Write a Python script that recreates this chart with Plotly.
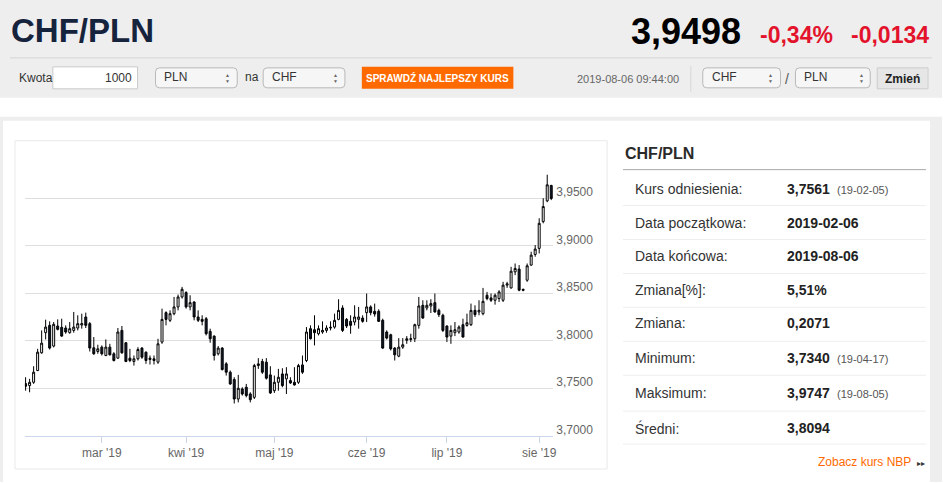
import pandas as pd
import plotly.graph_objects as go

W, H = 945, 483

# ------------------------------------------------------------------
# Data (CHF/PLN daily candles, 2019-02-04 .. 2019-08-06)
# ------------------------------------------------------------------
open_ = [
    3.7549, 3.7528, 3.7563, 3.7687, 3.7873, 3.8085, 3.8162, 3.7944, 3.8155, 3.8141,
    3.8134, 3.8085, 3.8109, 3.8134, 3.8166, 3.8250, 3.8180, 3.7926, 3.7887, 3.7933,
    3.7845, 3.7933, 3.7863, 3.7817, 3.8109, 3.7979, 3.7817, 3.7782, 3.7810, 3.7923,
    3.7880, 3.7817, 3.7810, 3.7775, 3.7986, 3.8296, 3.8215, 3.8285, 3.8356, 3.8461,
    3.8507, 3.8356, 3.8408, 3.8250, 3.8225, 3.8232, 3.8099, 3.8049, 3.7863, 3.7923,
    3.7757, 3.7669, 3.7592, 3.7387, 3.7493, 3.7511, 3.7440, 3.7405, 3.7739, 3.7782,
    3.7775, 3.7641, 3.7475, 3.7563, 3.7651, 3.7599, 3.7581, 3.7563, 3.7563, 3.7746,
    3.7792, 3.8127, 3.8116, 3.8074, 3.8092, 3.8109, 3.8134, 3.8144, 3.8225, 3.8345,
    3.8225, 3.8204, 3.8197, 3.8225, 3.8239, 3.8296, 3.8356, 3.8310, 3.8310, 3.8215,
    3.8092, 3.8063, 3.7923, 3.7838, 3.7933, 3.8004, 3.8014, 3.8021, 3.8162, 3.8373,
    3.8345, 3.8366, 3.8401, 3.8320, 3.8268, 3.8155, 3.8049, 3.8085, 3.8092, 3.8169,
    3.8162, 3.8169, 3.8320, 3.8303, 3.8285, 3.8479, 3.8451, 3.8426, 3.8444, 3.8426,
    3.8585, 3.8556, 3.8725, 3.8754, 3.8540, 3.8637, 3.8796, 3.8908, 3.8972, 3.9254,
    3.9472, 3.9634,
]
high = [
    3.7616, 3.7599, 3.7732, 3.7915, 3.8109, 3.8222, 3.8204, 3.8197, 3.8225, 3.8232,
    3.8162, 3.8197, 3.8303, 3.8268, 3.8285, 3.8296, 3.8197, 3.8039, 3.7958, 3.7951,
    3.8014, 3.7968, 3.7880, 3.8134, 3.8155, 3.7986, 3.7915, 3.7845, 3.7933, 3.7933,
    3.7887, 3.7845, 3.7845, 3.8021, 3.8338, 3.8310, 3.8320, 3.8461, 3.8486, 3.8567,
    3.8521, 3.8479, 3.8415, 3.8320, 3.8268, 3.8250, 3.8127, 3.8056, 3.7944, 3.7933,
    3.7775, 3.7687, 3.7616, 3.7641, 3.7511, 3.7546, 3.7458, 3.7757, 3.7817, 3.7810,
    3.7817, 3.7732, 3.7634, 3.7704, 3.7711, 3.7722, 3.7616, 3.7722, 3.7757, 3.7845,
    3.8144, 3.8162, 3.8268, 3.8162, 3.8204, 3.8162, 3.8204, 3.8285, 3.8437, 3.8373,
    3.8239, 3.8268, 3.8373, 3.8356, 3.8268, 3.8497, 3.8373, 3.8391, 3.8331, 3.8232,
    3.8109, 3.8074, 3.7933, 3.8028, 3.8028, 3.8049, 3.8074, 3.8180, 3.8461, 3.8426,
    3.8426, 3.8437, 3.8497, 3.8338, 3.8285, 3.8162, 3.8162, 3.8197, 3.8162, 3.8232,
    3.8285, 3.8391, 3.8373, 3.8426, 3.8556, 3.8514, 3.8497, 3.8497, 3.8532, 3.8620,
    3.8620, 3.8778, 3.8813, 3.8796, 3.8550, 3.8813, 3.8937, 3.9007, 3.9289, 3.9500,
    3.9747, 3.9641,
]
low = [
    3.7475, 3.7458, 3.7546, 3.7680, 3.7863, 3.8014, 3.7908, 3.7930, 3.8109, 3.8042,
    3.8074, 3.8074, 3.8085, 3.8109, 3.8127, 3.8134, 3.7887, 3.7852, 3.7863, 3.7845,
    3.7838, 3.7845, 3.7782, 3.7810, 3.7863, 3.7775, 3.7775, 3.7739, 3.7792, 3.7810,
    3.7757, 3.7750, 3.7750, 3.7757, 3.7968, 3.8162, 3.8197, 3.8268, 3.8320, 3.8444,
    3.8338, 3.8320, 3.8215, 3.8197, 3.8162, 3.8056, 3.7979, 3.7792, 3.7845, 3.7687,
    3.7634, 3.7535, 3.7340, 3.7352, 3.7423, 3.7405, 3.7352, 3.7387, 3.7704, 3.7651,
    3.7592, 3.7440, 3.7451, 3.7475, 3.7511, 3.7440, 3.7546, 3.7528, 3.7546, 3.7651,
    3.7775, 3.8014, 3.7951, 3.8056, 3.8074, 3.8085, 3.8109, 3.8127, 3.8215, 3.8092,
    3.8134, 3.8074, 3.8162, 3.8127, 3.8190, 3.8197, 3.8268, 3.8254, 3.8197, 3.7915,
    3.8014, 3.7898, 3.7792, 3.7827, 3.7915, 3.7968, 3.7986, 3.7986, 3.8127, 3.8232,
    3.8320, 3.8292, 3.8296, 3.8250, 3.8092, 3.7986, 3.7968, 3.8049, 3.8074, 3.8035,
    3.8148, 3.8155, 3.8250, 3.8268, 3.8268, 3.8426, 3.8408, 3.8380, 3.8408, 3.8408,
    3.8556, 3.8549, 3.8690, 3.8521, 3.8521, 3.8620, 3.8789, 3.8884, 3.8919, 3.9236,
    3.9458, 3.9480,
]
close = [
    3.7521, 3.7563, 3.7669, 3.7880, 3.7975, 3.8144, 3.7923, 3.8173, 3.8120, 3.8049,
    3.8092, 3.8127, 3.8144, 3.8180, 3.8180, 3.8162, 3.7923, 3.7863, 3.7915, 3.7863,
    3.7933, 3.7852, 3.7792, 3.8092, 3.7873, 3.7782, 3.7792, 3.7810, 3.7908, 3.7827,
    3.7792, 3.7803, 3.7792, 3.7968, 3.8225, 3.8225, 3.8285, 3.8356, 3.8461, 3.8542,
    3.8356, 3.8401, 3.8250, 3.8215, 3.8204, 3.8074, 3.8021, 3.7845, 3.7923, 3.7697,
    3.7669, 3.7546, 3.7387, 3.7500, 3.7440, 3.7423, 3.7380, 3.7739, 3.7757, 3.7669,
    3.7606, 3.7451, 3.7563, 3.7616, 3.7528, 3.7651, 3.7556, 3.7535, 3.7739, 3.7669,
    3.8092, 3.8021, 3.8085, 3.8127, 3.8109, 3.8134, 3.8141, 3.8215, 3.8320, 3.8109,
    3.8155, 3.8162, 3.8250, 3.8250, 3.8204, 3.8356, 3.8296, 3.8282, 3.8204, 3.7923,
    3.8028, 3.7915, 3.7852, 3.7933, 3.7958, 3.8021, 3.8021, 3.8169, 3.8366, 3.8239,
    3.8373, 3.8391, 3.8303, 3.8275, 3.8109, 3.8039, 3.8109, 3.8116, 3.8144, 3.8039,
    3.8190, 3.8320, 3.8275, 3.8320, 3.8415, 3.8444, 3.8426, 3.8479, 3.8514, 3.8585,
    3.8599, 3.8732, 3.8761, 3.8532, 3.8532, 3.8789, 3.8901, 3.8965, 3.9236, 3.9412,
    3.9641, 3.9498,
]
dates = pd.bdate_range("2019-02-04", "2019-08-06")
assert len(dates) == len(close)

month_ticks = ["2019-03-01", "2019-04-01", "2019-05-01", "2019-06-03", "2019-07-01", "2019-08-01"]
month_labels = ["mar '19", "kwi '19", "maj '19", "cze '19", "lip '19", "sie '19"]
price_ticks = [3.70, 3.75, 3.80, 3.85, 3.90, 3.95, 4.00]
price_labels = ["3,7000", "3,7500", "3,8000", "3,8500", "3,9000", "3,9500", ""]

stat_labels = ["Kurs odniesienia:", "Data początkowa:", "Data końcowa:", "Zmiana[%]:",
               "Zmiana:", "Minimum:", "Maksimum:", "Średni:"]
stat_values = ["3,7561", "2019-02-06", "2019-08-06", "5,51%", "0,2071", "3,7340", "3,9747", "3,8094"]
stat_dates = ["(19-02-05)", "", "", "", "", "(19-04-17)", "(19-08-05)", ""]

FONT = "Liberation Sans, Arial, sans-serif"
ORANGE = "#ff6a00"
RED = "#e3132c"


# ------------------------------------------------------------------
# helpers: pixel coords -> paper coords
# ------------------------------------------------------------------
def px(x):
    return x / W


def py(y):
    return 1 - y / H


def rect(x0, y0, x1, y1, fill, line=None, lw=1):
    return dict(type="rect", xref="paper", yref="paper", layer="below",
                x0=px(x0), x1=px(x1), y0=py(y1), y1=py(y0), fillcolor=fill,
                line=dict(color=line or fill, width=lw if line else 0))


def rrect(x0, y0, x1, y1, fill, line, r=4):
    # rounded rectangle as an svg path in paper units
    rx, ry = r / W, r / H
    a, b, c, d = px(x0), px(x1), py(y1), py(y0)
    path = (f"M{a + rx},{d} L{b - rx},{d} Q{b},{d} {b},{d - ry} L{b},{c + ry} "
            f"Q{b},{c} {b - rx},{c} L{a + rx},{c} Q{a},{c} {a},{c + ry} "
            f"L{a},{d - ry} Q{a},{d} {a + rx},{d} Z")
    return dict(type="path", xref="paper", yref="paper", path=path, layer="below",
                fillcolor=fill, line=dict(color=line, width=1))


def hline(x0, x1, y, color, lw=1):
    return dict(type="line", xref="paper", yref="paper", layer="below",
                x0=px(x0), x1=px(x1), y0=py(y), y1=py(y), line=dict(color=color, width=lw))


def vline(x, y0, y1, color, lw=1):
    return dict(type="line", xref="paper", yref="paper", layer="below",
                x0=px(x), x1=px(x), y0=py(y0), y1=py(y1), line=dict(color=color, width=lw))


def text(x, y, s, size=12, color="#333", bold=False, anchor="left"):
    if bold:
        s = f"<b>{s}</b>"
    return dict(xref="paper", yref="paper", x=px(x), y=py(y), text=s, showarrow=False,
                xanchor=anchor, yanchor="middle", font=dict(family=FONT, size=size, color=color))


def select_arrows(x, y):
    return [text(x, y - 3, "▲", size=5, color="#666", anchor="center"),
            text(x, y + 3, "▼", size=5, color="#666", anchor="center")]


# ------------------------------------------------------------------
# Figure
# ------------------------------------------------------------------
fig = go.Figure()
fig.add_trace(go.Candlestick(
    x=dates, open=open_, high=high, low=low, close=close,
    increasing=dict(line=dict(color="#000000", width=1), fillcolor="#ffffff"),
    decreasing=dict(line=dict(color="#000000", width=1), fillcolor="#101a2c"),
    whiskerwidth=0, hoverinfo="skip", showlegend=False,
))

shapes = [
    # header band
    rect(0, 0, W, 98, "#eeeeee"),
    hline(10, 935, 58, "#d4d4d4"),
    rect(53, 67, 138, 89, "#ffffff", "#c9c9c9"),
    rrect(156, 68, 238, 88, "#f6f6f6", "#b8b8b8"),
    rrect(264, 68, 346, 88, "#f6f6f6", "#b8b8b8"),
    rect(363, 67, 515, 89, ORANGE),
    vline(693, 66, 92, "#d8d8d8"),
    rrect(705, 68, 783, 88, "#f6f6f6", "#b8b8b8"),
    rrect(798, 68, 873, 88, "#f6f6f6", "#b8b8b8"),
    rect(880, 68, 931, 89, "#e6e6e6", "#cdcdcd"),
    # card
    rect(0, 117, W, H, "#eeeeee"),
    rect(3, 121, 933, H, "#ffffff"),
    rect(15, 141, 609, 470, "#ffffff", "#e9e9e9"),
    # stats panel
    hline(625, 929, 170, "#a8a8a8"),
]
for y in [206, 240, 274, 308, 342, 376, 412, 445]:
    shapes.append(hline(625, 929, y, "#eeeeee"))

annotations = [
    text(9, 31, "CHF/PLN", size=33, color="#16233d", bold=True),
    text(745, 32, "3,9498", size=36, color="#000000", bold=True, anchor="right"),
    text(838, 35, "-0,34%", size=23, color=RED, bold=True, anchor="right"),
    text(934, 35, "-0,0134", size=23, color=RED, bold=True, anchor="right"),
    text(17, 78, "Kwota", size=12),
    text(134, 78, "1000", size=12, anchor="right"),
    text(163, 77, "PLN", size=12),
    text(244, 77, "na", size=12),
    text(271, 77, "CHF", size=12),
    text(439, 78, "SPRAWDŹ NAJLEPSZY KURS", size=10, color="#ffffff", bold=True, anchor="center"),
    text(683, 79, "2019-08-06 09:44:00", size=11, color="#666", anchor="right"),
    text(712, 77, "CHF", size=12),
    text(790, 79, "/", size=14, color="#555", anchor="center"),
    text(805, 77, "PLN", size=12),
    text(905, 79, "Zmień", size=12, color="#222", bold=True, anchor="center"),
    text(625, 154, "CHF/PLN", size=16, color="#2a2a2a", bold=True),
    text(916, 463, "Zobacz kurs NBP", size=12, color=ORANGE, anchor="right"),
    text(924, 464, "▸▸", size=8, color="#333", anchor="center"),
]
for ax in [228, 337, 773, 864]:
    annotations += select_arrows(ax, 78)

row_y = [189, 223, 257, 291, 324, 359, 394, 429]
for y, lab, val, dt in zip(row_y, stat_labels, stat_values, stat_dates):
    annotations.append(text(635, y, lab, size=14, color="#333"))
    annotations.append(text(788, y, val, size=14, color="#222", bold=True))
    if dt:
        annotations.append(text(838, y + 1, dt, size=11, color="#555"))

fig.update_layout(
    width=W, height=H, autosize=False,
    margin=dict(l=0, r=0, t=0, b=0),
    paper_bgcolor="#ffffff", plot_bgcolor="rgba(0,0,0,0)",
    separators=", ",
    shapes=shapes, annotations=annotations,
    hovermode=False, showlegend=False,
    font=dict(family=FONT),
    xaxis=dict(
        domain=[px(25), px(555)],
        range=["2019-02-01 20:00", "2019-08-06 12:00"],
        rangebreaks=[dict(bounds=["sat", "mon"])],
        rangeslider=dict(visible=False),
        tickvals=month_ticks, ticktext=month_labels,
        ticks="outside", ticklen=6, tickcolor="#ccd6eb",
        showline=True, linecolor="#ccd6eb", linewidth=1,
        showgrid=False, zeroline=False,
        tickfont=dict(family=FONT, size=12, color="#666666"),
    ),
    yaxis=dict(
        domain=[py(436.7), py(151)],
        range=[3.70, 4.00], side="right",
        tickvals=price_ticks, ticktext=price_labels,
        ticklabelshift=-6, ticklabelstandoff=2,
        showgrid=True, gridcolor="#dedede", gridwidth=1,
        zeroline=False, showline=False, ticks="",
        tickfont=dict(family=FONT, size=12, color="#666666"),
    ),
)

fig.write_html(
    "out.html",
    config={"displayModeBar": False},
    post_script="document.body.style.margin='0';"
                "document.documentElement.style.overflow='hidden';",
)
